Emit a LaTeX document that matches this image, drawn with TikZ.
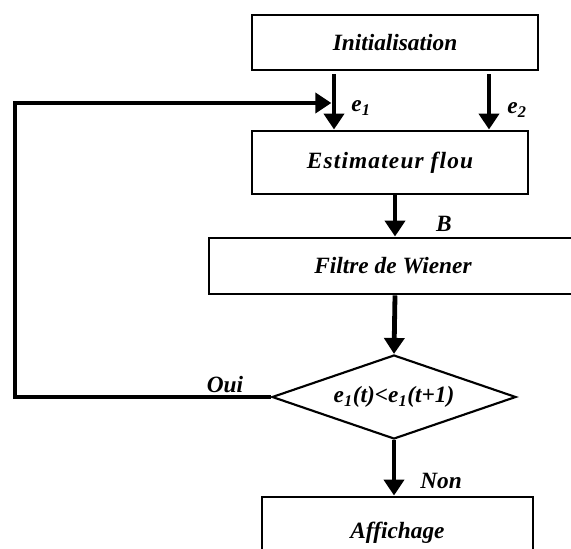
\documentclass[tikz,border=0pt]{standalone}
\usepackage{fontspec}
\setmainfont{Liberation Serif}
\usetikzlibrary{arrows.meta,shapes.geometric}

\tikzset{
  txt/.style={font=\fontsize{17.5}{20}\selectfont\bfseries\itshape},
  bloc/.style={txt,draw,line width=2.2pt,inner sep=0pt},
  test/.style={txt,draw,diamond,line width=1.6pt,inner sep=0pt,aspect=2.9},
  flow/.style={line width=3.6pt,line join=miter,-{Triangle[length=12pt,width=15pt]}},
}

\begin{document}
\begin{tikzpicture}[x=0.75pt,y=-0.75pt]
\useasboundingbox (0,0) rectangle (571,549);
\node[bloc,minimum width=214.5pt,minimum height=41.25pt] (init) at (395,42.5) {Initialisation};
\node[bloc,minimum width=207pt,minimum height=47.25pt] (estim) at (390,162.5) {\addfontfeature{LetterSpace=5}Estimateur flou};
\node[bloc,minimum width=276pt,minimum height=42pt] (filtre) at (393,266) {Filtre de Wiener};
\node[test,minimum width=183pt,minimum height=63pt] (cond) at (394,397) {e\textsubscript{1}(t)<e\textsubscript{1}(t+1)};
\node[bloc,minimum width=203.25pt,minimum height=54pt] (affich) at (397.5,533) {Affichage};
\coordinate (in1) at (334,0);
\coordinate (in2) at (489,0);
\coordinate (axe) at (395,0);
\coordinate (fbl) at (15,103);
\node[txt] (le1) at (361,108) {e\textsubscript{1}};
\node[txt] (le2) at (517,110) {e\textsubscript{2}};
\node[txt] (lb) at (444,224) {B};
\node[txt] (loui) at (225,385) {Oui};
\node[txt] (lnon) at (441,481) {Non};
\draw[flow,shorten <=2pt] (init.south -| in1) -- (estim.north -| in1);
\draw[flow,shorten <=2pt] (init.south -| in2) -- (estim.north -| in2);
\draw[flow] (estim.south -| axe) -- (filtre.north -| axe);
\draw[flow] (filtre.south -| axe) -- (cond.north);
\draw[flow] (cond.south) -- (affich.north -| cond.south);
\draw[flow,shorten >=2pt] (cond.west) -| (fbl) -- (fbl -| in1);
\end{tikzpicture}
\end{document}
